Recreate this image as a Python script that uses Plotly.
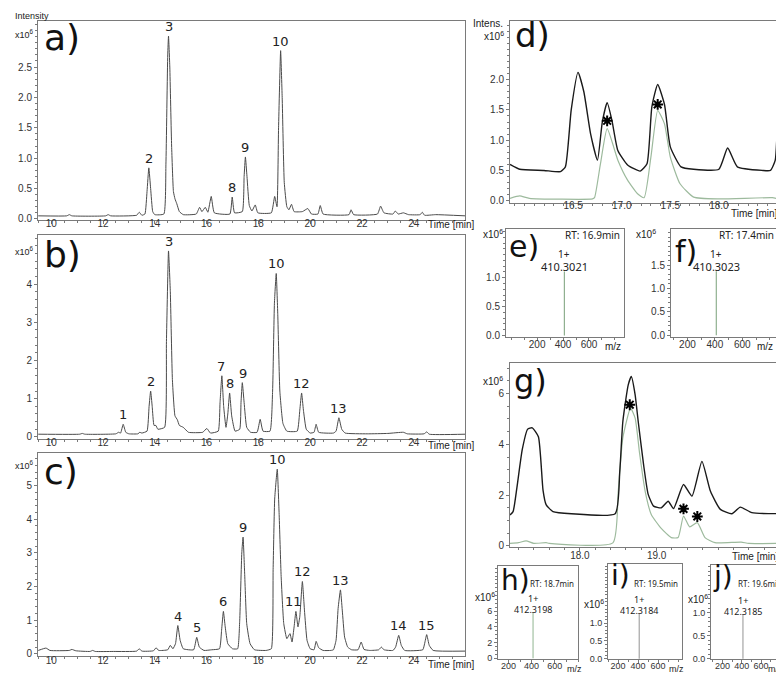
import plotly.graph_objects as go

W, H = 784, 674

# ---------------- data ----------------
# chromatograms (time [min], intensity x10^6)
a_points = [(9.5, 0.05), (10.6, 0.05), (10.7, 0.07), (10.8, 0.05), (12.1, 0.05), (12.2, 0.07), (12.3, 0.05),
            (13.3, 0.06), (13.4, 0.11), (13.5, 0.06), (13.62, 0.08), (13.7, 0.45), (13.77, 0.84), (13.84, 0.5),
            (13.92, 0.12), (14.0, 0.07), (14.35, 0.08), (14.43, 0.9), (14.5, 2.7), (14.53, 3.01), (14.58, 2.5),
            (14.65, 1.2), (14.72, 0.45), (14.78, 0.33), (14.85, 0.25), (14.95, 0.12), (15.1, 0.07), (15.6, 0.08),
            (15.73, 0.19), (15.82, 0.12), (15.95, 0.19), (16.05, 0.11), (16.18, 0.37), (16.3, 0.1), (16.9, 0.08),
            (16.99, 0.36), (17.08, 0.1), (17.38, 0.12), (17.45, 0.7), (17.5, 1.02), (17.56, 0.7), (17.65, 0.22),
            (17.75, 0.13), (17.88, 0.23), (17.98, 0.1), (18.5, 0.1), (18.63, 0.37), (18.72, 0.2), (18.78, 1.5),
            (18.86, 2.77), (18.92, 2.0), (19.0, 0.6), (19.1, 0.2), (19.18, 0.15), (19.28, 0.24), (19.38, 0.12),
            (19.7, 0.12), (19.91, 0.17), (20.05, 0.08), (20.3, 0.08), (20.39, 0.22), (20.5, 0.08), (21.5, 0.07),
            (21.58, 0.15), (21.68, 0.07), (22.6, 0.08), (22.72, 0.21), (22.85, 0.1), (23.2, 0.08), (23.29, 0.13),
            (23.4, 0.08), (23.6, 0.1), (23.8, 0.07), (24.25, 0.07), (24.33, 0.11), (24.42, 0.06), (24.85, 0.07),
            (26.0, 0.05)]
a_labels = [("2", 13.77, 0.84), ("3", 14.53, 3.01), ("8", 16.99, 0.36), ("9", 17.5, 1.02), ("10", 18.86, 2.77)]

b_points = [(9.5, 0.07), (11.1, 0.07), (11.2, 0.09), (11.3, 0.07), (12.5, 0.08), (12.6, 0.12), (12.68, 0.1),
            (12.78, 0.33), (12.88, 0.12), (13.0, 0.08), (13.35, 0.08), (13.42, 0.12), (13.5, 0.1), (13.7, 0.15),
            (13.78, 0.8), (13.84, 1.2), (13.9, 0.8), (13.97, 0.3), (14.04, 0.3), (14.12, 0.2), (14.38, 0.25),
            (14.45, 2.5), (14.53, 4.87), (14.6, 3.8), (14.68, 1.5), (14.78, 0.55), (14.87, 0.45), (14.95, 0.3),
            (15.1, 0.25), (15.3, 0.12), (15.85, 0.12), (16.01, 0.22), (16.15, 0.1), (16.45, 0.15), (16.52, 0.9),
            (16.59, 1.6), (16.66, 0.8), (16.75, 0.25), (16.82, 0.6), (16.89, 1.15), (16.97, 0.55), (17.1, 0.15),
            (17.28, 0.2), (17.33, 0.9), (17.38, 1.42), (17.45, 0.9), (17.55, 0.25), (17.7, 0.12), (17.95, 0.12),
            (18.07, 0.46), (18.18, 0.15), (18.45, 0.15), (18.55, 1.2), (18.62, 3.5), (18.69, 4.28), (18.75, 3.2),
            (18.83, 1.2), (18.95, 0.35), (19.1, 0.15), (19.5, 0.15), (19.6, 0.7), (19.67, 1.15), (19.74, 0.7),
            (19.85, 0.2), (20.0, 0.1), (20.15, 0.12), (20.23, 0.33), (20.33, 0.12), (20.9, 0.1), (21.0, 0.15),
            (21.11, 0.5), (21.22, 0.2), (21.35, 0.1), (22.2, 0.08), (23.0, 0.09), (23.6, 0.12), (23.75, 0.08),
            (24.4, 0.08), (24.5, 0.13), (24.6, 0.07), (26.0, 0.07)]
b_labels = [("1", 12.78, 0.33), ("2", 13.84, 1.2), ("3", 14.53, 4.87), ("7", 16.57, 1.6), ("8", 16.92, 1.15),
            ("9", 17.4, 1.42), ("10", 18.69, 4.28), ("12", 19.67, 1.15), ("13", 21.11, 0.5)]

c_points = [(9.5, 0.1), (9.8, 0.17), (9.95, 0.1), (10.7, 0.1), (10.8, 0.13), (10.95, 0.09), (11.5, 0.07),
            (11.6, 0.1), (11.7, 0.07), (12.4, 0.07), (13.3, 0.08), (13.4, 0.15), (13.5, 0.08), (13.95, 0.09),
            (14.05, 0.18), (14.15, 0.1), (14.5, 0.12), (14.6, 0.25), (14.7, 0.15), (14.8, 0.3), (14.89, 0.84),
            (14.98, 0.4), (15.1, 0.15), (15.5, 0.12), (15.62, 0.49), (15.72, 0.2), (15.9, 0.1), (16.2, 0.12),
            (16.5, 0.15), (16.58, 0.7), (16.65, 1.26), (16.72, 0.8), (16.82, 0.3), (17.0, 0.15), (17.2, 0.15),
            (17.28, 1.0), (17.36, 3.0), (17.41, 3.47), (17.47, 2.4), (17.55, 0.9), (17.68, 0.3), (17.85, 0.12),
            (18.3, 0.1), (18.5, 0.15), (18.57, 2.5), (18.63, 4.6), (18.73, 5.49), (18.8, 4.2), (18.88, 2.3),
            (18.98, 0.9), (19.1, 0.45), (19.22, 0.6), (19.3, 0.35), (19.38, 0.8), (19.45, 1.26), (19.53, 0.8),
            (19.6, 1.1), (19.7, 2.15), (19.78, 1.3), (19.88, 0.4), (20.0, 0.15), (20.15, 0.12), (20.23, 0.37),
            (20.33, 0.18), (20.5, 0.1), (20.8, 0.1), (20.9, 0.12), (21.0, 0.4), (21.08, 1.35), (21.17, 1.9),
            (21.24, 1.3), (21.33, 0.5), (21.45, 0.2), (21.6, 0.12), (21.85, 0.12), (21.97, 0.35), (22.08, 0.13),
            (22.3, 0.1), (22.65, 0.12), (22.75, 0.2), (22.85, 0.12), (23.2, 0.1), (23.3, 0.2), (23.42, 0.55),
            (23.52, 0.25), (23.65, 0.1), (24.35, 0.12), (24.42, 0.3), (24.5, 0.57), (24.6, 0.25), (24.75, 0.1),
            (26.0, 0.08)]
c_labels = [("4", 14.89, 0.84), ("5", 15.62, 0.49), ("6", 16.65, 1.26), ("9", 17.41, 3.47), ("10", 18.73, 5.49),
            ("11", 19.36, 1.26), ("12", 19.7, 2.15), ("13", 21.17, 1.9), ("14", 23.42, 0.55), ("15", 24.5, 0.57)]

# zoomed EIC d) : total (black) and extracted (green)
d_black = [(15.85, 0.6), (15.95, 0.52), (16.2, 0.5), (16.37, 0.48), (16.42, 0.56), (16.48, 1.5), (16.55, 2.12),
           (16.61, 1.8), (16.68, 1.1), (16.75, 0.67), (16.8, 1.3), (16.85, 1.62), (16.9, 1.32), (16.96, 0.83),
           (17.06, 0.59), (17.19, 0.49), (17.26, 0.61), (17.31, 1.55), (17.37, 1.92), (17.44, 1.59), (17.5, 0.89),
           (17.61, 0.56), (17.74, 0.52), (18.0, 0.52), (18.09, 0.87), (18.19, 0.56), (18.45, 0.5), (18.53, 0.5),
           (18.58, 0.67), (18.62, 2.09), (18.66, 2.96)]
d_green = [(15.85, 0.04), (15.95, 0.08), (16.05, 0.04), (16.7, 0.03), (16.72, 0.05), (16.78, 0.6), (16.85, 1.19),
           (16.96, 0.67), (17.06, 0.34), (17.16, 0.12), (17.23, 0.05), (17.3, 0.72), (17.37, 1.49), (17.44, 1.27),
           (17.5, 0.72), (17.6, 0.28), (17.74, 0.06), (18.0, 0.03), (18.55, 0.05), (18.62, 0.03)]
d_stars = [(16.85, 1.32), (17.37, 1.59)]

g_black = [(17.09, 1.22), (17.13, 1.35), (17.18, 2.3), (17.25, 3.8), (17.32, 4.6), (17.38, 4.65), (17.46, 4.3),
           (17.52, 2.2), (17.56, 1.63), (17.65, 1.35), (17.89, 1.27), (18.46, 1.27), (18.52, 2.94), (18.56, 4.9),
           (18.63, 6.34), (18.67, 6.67), (18.72, 5.95), (18.76, 4.9), (18.83, 3.2), (18.89, 2.03), (18.96, 1.57),
           (19.06, 1.5), (19.15, 1.76), (19.22, 1.47), (19.35, 2.42), (19.46, 1.96), (19.59, 3.33), (19.7, 2.16),
           (19.83, 1.44), (19.98, 1.27), (20.09, 1.53), (20.24, 1.31), (20.62, 1.27)]
g_green = [(17.09, 0.1), (17.2, 0.13), (17.3, 0.2), (17.4, 0.1), (17.56, 0.13), (17.6, 0.1), (18.43, 0.12),
           (18.5, 2.16), (18.56, 4.26), (18.66, 5.43), (18.72, 5.03), (18.78, 3.6), (18.85, 2.16), (18.93, 1.24),
           (19.06, 0.69), (19.19, 0.33), (19.28, 0.33), (19.35, 1.18), (19.43, 0.75), (19.53, 0.92), (19.63, 0.33),
           (19.76, 0.13), (20.1, 0.15), (20.2, 0.1), (20.62, 0.1)]
g_stars = [(18.65, 5.56), (19.35, 1.46), (19.53, 1.16)]

# mass spectra: panel, m/z, intensity x10^6, RT label
spec_panel = ["e", "f", "h", "i", "j"]
spec_mz = [410.3021, 410.3023, 412.3198, 412.3184, 412.3185]
spec_int = [1.11, 1.37, 5.8, 1.26, 0.95]
spec_rt = ["RT: 16.9min", "RT: 17.4min", "RT: 18.7min", "RT: 19.5min", "RT: 19.6min"]
spec_charge = ["1+", "1+", "1+", "1+", "1+"]

# ---------------- styling ----------------
AX = "#7a7a7a"
TICK_FONT = "Liberation Sans, Arial, sans-serif"
LBL_FONT = "DejaVu Sans, Verdana, sans-serif"
SPEC_FONT = "Noto Sans, Open Sans, sans-serif"

fig = go.Figure()


def ref(n):
    return ("x", "y") if n == 1 else (f"x{n}", f"y{n}")


def add_axes(n, box, xr, yr, xticks, yticks, xfmt, yfmt, xminor, yminor, fsize=10, standoff=-5):
    l, t, r, b = box
    xr_, yr_ = ref(n)
    base = dict(showline=True, linecolor=AX, linewidth=1, mirror=True, ticks="outside", ticklen=3,
                tickcolor=AX, showgrid=False, zeroline=False, fixedrange=True,
                tickfont=dict(family=TICK_FONT, size=fsize, color="#333"))
    fig.update_layout(**{
        ("xaxis" if n == 1 else f"xaxis{n}"): dict(
            base, domain=[l / W, r / W], range=xr, anchor=yr_, tickmode="array", tickvals=xticks,
            tickformat=xfmt, ticklabelstandoff=standoff,
            minor=dict(tick0=0, dtick=xminor, ticks="outside", ticklen=2, tickcolor=AX)),
        ("yaxis" if n == 1 else f"yaxis{n}"): dict(
            base, domain=[1 - b / H, 1 - t / H], range=yr, anchor=xr_, tickmode="array", tickvals=yticks,
            tickformat=yfmt, minor=dict(tick0=0, dtick=yminor, ticks="outside", ticklen=2, tickcolor=AX)),
    })


def add_line(n, pts, color, width=1.0, smooth=0.5):
    xr_, yr_ = ref(n)
    fig.add_trace(go.Scatter(x=[p[0] for p in pts], y=[p[1] for p in pts], xaxis=xr_, yaxis=yr_,
                             mode="lines", line=dict(color=color, width=width, shape="spline", smoothing=smooth),
                             hoverinfo="skip", showlegend=False))


def add_stars(n, pts):
    xr_, yr_ = ref(n)
    fig.add_trace(go.Scatter(x=[p[0] for p in pts], y=[p[1] for p in pts], xaxis=xr_, yaxis=yr_, mode="markers",
                             marker=dict(symbol="asterisk-open", size=9, color="black",
                                         line=dict(color="black", width=2)),
                             hoverinfo="skip", showlegend=False))


annotations = []


def text_px(x, y, s, size, family=TICK_FONT, xanchor="center", color="#222"):
    annotations.append(dict(x=x / W, y=1 - y / H, xref="paper", yref="paper", text=s, showarrow=False,
                            xanchor=xanchor, yanchor="middle", font=dict(family=family, size=size, color=color)))


def peak_labels(n, labels):
    xr_, yr_ = ref(n)
    for s, t, v in labels:
        annotations.append(dict(x=t, y=v, xref=xr_, yref=yr_, text=s, showarrow=False, yanchor="bottom",
                                yshift=0, font=dict(family=LBL_FONT, size=13, color="#222")))


# ---------------- chromatograms a-c ----------------
chrom_x = [9.49, 25.98]
add_axes(1, (30, 13, 457, 214), chrom_x, [-0.025, 3.26], list(range(10, 25, 2)), [0, 0.5, 1, 1.5, 2, 2.5],
         "d", ".1f", 0.5, 0.1, standoff=-9)
add_axes(2, (30, 229, 457, 434), chrom_x, [-0.05, 5.28], list(range(10, 25, 2)), [0, 1, 2, 3, 4],
         "d", "d", 0.5, 0.2, standoff=-9)
add_axes(3, (30, 448, 457, 653), chrom_x, [-0.07, 5.98], list(range(10, 25, 2)), [0, 1, 2, 3, 4, 5],
         "d", "d", 0.5, 0.2, standoff=-8)
for n, pts, lab in [(1, a_points, a_labels), (2, b_points, b_labels), (3, c_points, c_labels)]:
    add_line(n, pts, "#4a4a4a", 1.0, 0.4)
    peak_labels(n, lab)

# ---------------- EIC d) and g) ----------------
add_axes(4, (502, 13, 776, 196), [15.85, 18.67], [-0.03, 2.97], [16.5, 17.0, 17.5, 18.0], [0, 0.5, 1, 1.5, 2],
         ".1f", ".1f", 0.1, 0.1, standoff=-10)
add_line(4, d_green, "#9dba9d", 1.2)
add_line(4, d_black, "#1a1a1a", 1.4)
add_stars(4, d_stars)

add_axes(7, (502, 358, 773, 543), [17.09, 20.62], [-0.04, 7.19], [18.0, 19.0], [0, 2, 4, 6],
         ".1f", "d", 0.2, 0.5, standoff=-4)
add_line(7, g_green, "#9dba9d", 1.2)
add_line(7, g_black, "#1a1a1a", 1.4)
add_stars(7, g_stars)

# ---------------- mass spectra ----------------
# panel -> axis number, box (px), x range, y range, y ticks, tick font, m/z label x, RT label y (px)
spec_axes = {
    "e": (5, (498, 223, 616, 331), [-40, 870], [-0.02, 1.84], [0, 0.5, 1.0], 10, 605, 229),
    "f": (6, (663, 223, 770, 331), [80, 860], [-0.03, 2.27], [0, 0.5, 1.0, 1.5], 10, 757, 229),
    "h": (8, (490, 562, 570, 656), [110, 800], [-0.12, 11.8], [0, 2, 4, 6], 9, 566, 580),
    "i": (9, (600, 560, 674, 656), [100, 840], [-0.01, 2.67], [0, 0.5, 1.0], 9, 668, 580),
    "j": (10, (703, 561, 778, 656), [80, 860], [-0.01, 2.04], [0, 0.5, 1.0], 9, 767, 580),
}
spec_colors = {"e": "#8fb08f", "f": "#8fb08f", "h": "#a3c2a3", "i": "#a5a5a5", "j": "#a5a5a5"}
for k, mz, inten, rt, ch in zip(spec_panel, spec_mz, spec_int, spec_rt, spec_charge):
    n, box, xr, yr, yt, fs, mzx, rty = spec_axes[k]
    yfmt = "d" if k == "h" else ".1f"
    yminor = 0.5 if k == "h" else 0.1
    add_axes(n, box, xr, yr, [200, 400, 600], yt, "d", yfmt, 100, yminor, fs)
    xr_, yr_ = ref(n)
    fig.add_trace(go.Scatter(x=[mz, mz], y=[0, inten], xaxis=xr_, yaxis=yr_, mode="lines",
                             line=dict(color=spec_colors[k], width=1.2), hoverinfo="skip", showlegend=False))
    big = fs == 10
    for s, shift, size in [(f"{mz:.4f}", 5 if big else 3, 11 if big else 9),
                           (ch, 17 if big else 14, 10 if big else 9)]:
        annotations.append(dict(x=mz, y=inten, xref=xr_, yref=yr_, text=s, showarrow=False,
                                yanchor="middle", yshift=shift,
                                font=dict(family=SPEC_FONT, size=size, color="#222")))
    l, t, r, b = box
    text_px(r - 2, rty, rt, 10 if big else 8, SPEC_FONT, xanchor="right")
    text_px(mzx, b + 10, "m/z", fs)

# ---------------- free text ----------------
text_px(5, 8, "Intensity", 9, xanchor="left")
for y in (26, 245, 460):
    text_px(5, y, "x10<sup>6</sup>", 9, xanchor="left")
for y in (218, 441, 661):
    text_px(443, y, "Time [min]", 10)
text_px(497, 16, "Intens.", 10, xanchor="right")
text_px(498, 28, "x10<sup>6</sup>", 10, xanchor="right")
text_px(772, 207, "Time [min]", 10, xanchor="right")
text_px(773, 553, "Time [min]", 10, xanchor="right")
text_px(497, 228, "x10<sup>6</sup>", 10, xanchor="right")
text_px(650, 228, "x10<sup>6</sup>", 10, xanchor="right")
text_px(497, 376, "x10<sup>6</sup>", 10, xanchor="right")
text_px(489, 593, "x10<sup>6</sup>", 10, xanchor="right")
text_px(598, 600, "x10<sup>6</sup>", 10, xanchor="right")
text_px(702, 595, "x10<sup>6</sup>", 10, xanchor="right")

# panel letters
for s, x, y, size in [("a)", 34, 30, 36), ("b)", 34, 248, 36), ("c)", 34, 467, 36), ("d)", 505, 27, 34),
                      ("e)", 499, 240, 30), ("f)", 665, 245, 30), ("g)", 504, 376, 32),
                      ("h)", 491, 577, 28), ("i)", 601, 572, 28), ("j)", 703, 573, 28)]:
    text_px(x, y, s, size, LBL_FONT, xanchor="left", color="#111")

fig.update_layout(
    width=W, height=H,
    margin=dict(l=0, r=0, t=0, b=0),
    paper_bgcolor="white", plot_bgcolor="white",
    showlegend=False,
    annotations=annotations,
)

fig.write_html("out.html")
